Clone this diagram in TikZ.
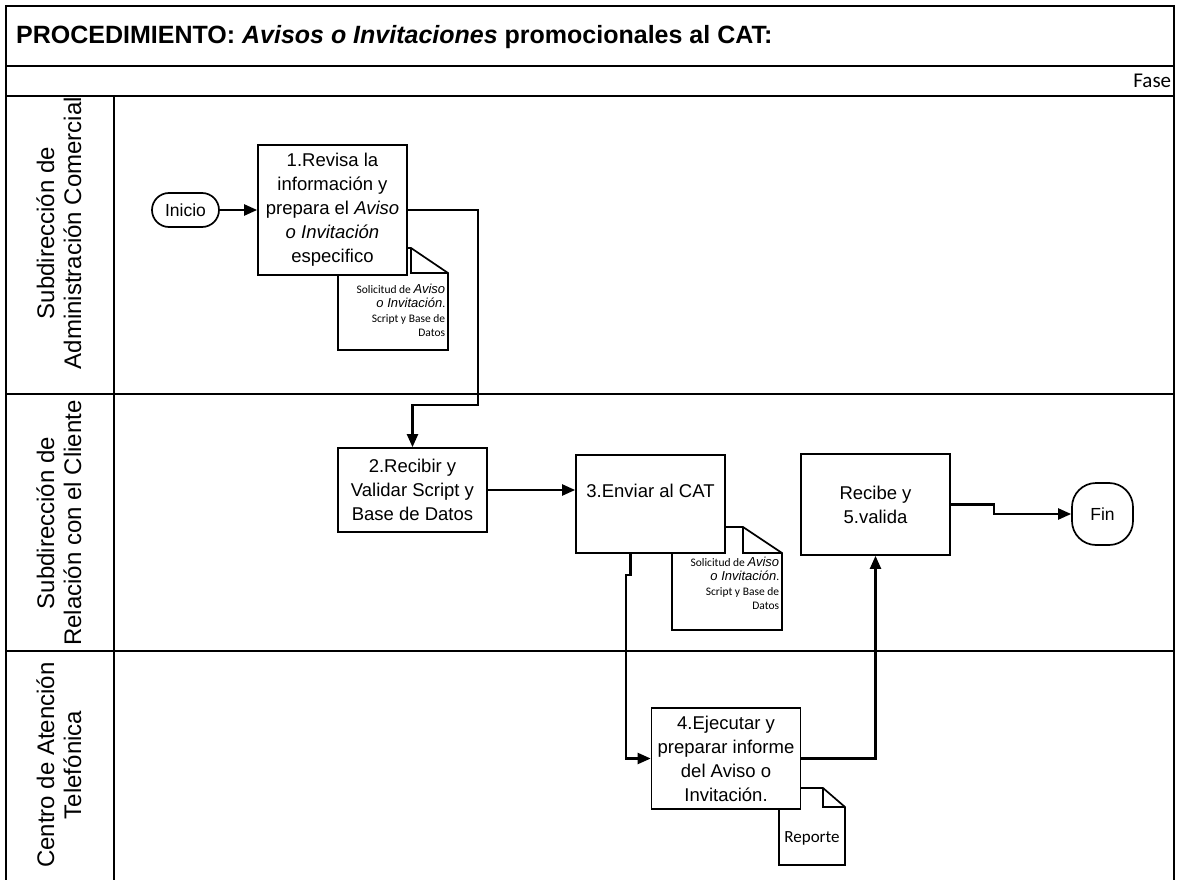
\documentclass[tikz,border=0pt]{standalone}
\usepackage{fontspec}
\setmainfont{Liberation Sans}
\newfontfamily\carlito{Carlito}
\usetikzlibrary{arrows.meta}

\begin{document}
\begin{tikzpicture}[x = 1pt, y = -1pt, line width = 1.7pt,
    every node/.style = {align = center, font = \fontsize{18.5}{24}\selectfont},
    proc/.style = {draw, fill = white, minimum width = 149pt, inner sep = 0pt},
    term/.style = {draw, fill = white, inner sep = 0pt, font = \fontsize{17.5}{20}\selectfont},
    lane/.style = {rotate = 90, font = \fontsize{24}{27}\selectfont},
    doctext/.style = {anchor = north east, align = right, inner sep = 0pt, font = \carlito\fontsize{11.5}{14.5}\selectfont},
    flow/.style = {line width = 2.2pt, -{Triangle[length = 13pt, width = 11pt]}}]
  \useasboundingbox (0,0) rectangle (1178,880);
  \draw (6,880) -- (6,6) -- (1174,6) -- (1174,880);
  \draw (6,66) -- (1174,66) (6,96) -- (1174,96) (6,394) -- (1174,394) (6,651) -- (1174,651);
  \draw (114,96) -- (114,880);
  \node[anchor = west, font = \bfseries\fontsize{25}{28}\selectfont] (titulo) at (12,37)
    {PROCEDIMIENTO: \textit{Avisos o Invitaciones} promocionales al CAT:};
  \node[anchor = base east, inner sep = 0pt, font = \carlito\fontsize{21}{24}\selectfont] (fase) at (1172,88) {Fase};
  \node[lane] (l1) at (59,233) {Subdirección de\\Administración Comercial};
  \node[lane] (l2) at (59,523) {Subdirección de\\Relación con el Cliente};
  \node[lane] (l3) at (59,765) {Centro de Atención\\Telefónica};

  \draw[fill = white] (338,350) -- (338,248) -- (411,248) -- (448,273) -- (448,350) -- cycle;
  \draw (411,248) -- (411,273) -- (448,273);
  \draw[fill = white] (672,630) -- (672,527) -- (743,527) -- (782,553) -- (782,630) -- cycle;
  \draw (743,527) -- (743,553) -- (782,553);
  \draw[fill = white] (779,865) -- (779,788) -- (823,788) -- (845,807) -- (845,865) -- cycle;
  \draw (823,788) -- (823,807) -- (845,807);
  \node[doctext] (s1) at (446,283) {Solicitud de {\rmfamily\itshape\fontsize{13}{14.5}\selectfont Aviso}\\{\rmfamily\itshape\fontsize{13}{14.5}\selectfont o Invitación}.\\Script y Base de\\Datos};
  \node[doctext] (s2) at (780,556) {Solicitud de {\rmfamily\itshape\fontsize{13}{14.5}\selectfont Aviso}\\{\rmfamily\itshape\fontsize{13}{14.5}\selectfont o Invitación}.\\Script y Base de\\Datos};
  \node[font = \carlito\fontsize{17}{20}\selectfont] (rep) at (812,838) {Reporte};

  \node[term, minimum width = 67pt, minimum height = 34pt, rounded corners = 17pt] (ini) at (185.5,210) {Inicio};
  \node[proc, minimum height = 130pt] (p1) at (332.5,210) {1.Revisa la\\información y\\prepara el \textit{Aviso}\\\textit{o Invitación}\\especifico};
  \node[proc, minimum height = 84pt] (p2) at (412.5,490) {2.Recibir y\\Validar Script y\\Base de Datos};
  \node[proc, minimum height = 98pt, text height = 14pt, text depth = 28pt] (p3) at (650.5,504) {3.Enviar al CAT};
  \node[proc, minimum height = 101pt] (p4) at (726,758.5) {4.Ejecutar y\\preparar informe\\del Aviso o\\Invitación.};
  \node[proc, minimum height = 101pt] (p5) at (875.5,504.5) {Recibe y\\5.valida};
  \node[term, minimum width = 61pt, minimum height = 62pt, rounded corners = 24pt] (fin) at (1102.5,514) {Fin};

  \draw[flow] (ini) -- (p1);
  \draw[flow] (p1.east) -| (478,405) -| (p2.north);
  \draw[flow] (p2.east) -- (p2.east -| p3.west);
  \draw[flow] ([xshift = -20pt]p3.south) |- (626,575) |- (p4.west);
  \draw[flow] (p4.east) -| (p5.south);
  \draw[flow] (p5.east) -- ++(43,0) |- (fin.west);
\end{tikzpicture}
\end{document}
